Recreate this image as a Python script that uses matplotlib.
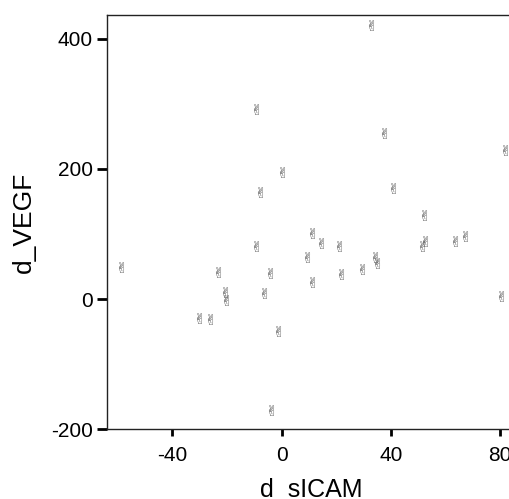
import matplotlib
matplotlib.use("Agg")
import matplotlib.pyplot as plt

# d_sICAM vs d_VEGF values
d_sICAM = [-58.7, -23.5, -20.9, -20.3, -30.4, -26.1, -9.3, -4.4, -6.6, -1.2,
           -3.9, 11.3, 14.5, 9.3, 11.3, 21.0, 21.8, 29.4, 34.2, 35.0,
           52.0, 51.4, 52.6, 63.7, 67.3, 80.5, 32.6, -9.4, 37.7, 82.0,
           0.3, -8.0, 40.9]
d_VEGF = [49.7, 41.5, 10.8, -1.5, -29.2, -30.8, 81.5, 40.5, 9.2, -49.2,
          -170.8, 101.5, 86.2, 64.6, 26.2, 81.5, 38.5, 46.2, 64.6, 54.9,
          129.2, 81.5, 89.7, 89.2, 96.9, 4.1, 421.5, 292.3, 255.9, 229.2,
          194.9, 164.6, 170.3]

x_ticks = [-40, 0, 40, 80]
y_ticks = [-200, 0, 200, 400]

plt.rcParams['font.family'] = ['Liberation Sans', 'DejaVu Sans']

fig = plt.figure(figsize=(5.1, 4.99), dpi=100)
ax = fig.add_axes([0.2098, 0.1397, 0.7902, 0.8308])

ax.scatter(d_sICAM, d_VEGF, marker='$\u270c$', s=60, c='#555555',
           linewidths=0)

ax.set_xlim(-64, 83.7)
ax.set_ylim(-200, 437)
ax.set_xticks(x_ticks)
ax.set_yticks(y_ticks)
ax.set_xticklabels([str(v) for v in x_ticks])
ax.set_yticklabels([str(v) for v in y_ticks])

ax.spines['right'].set_visible(False)
for s in ['left', 'bottom', 'top']:
    ax.spines[s].set_linewidth(1.0)
    ax.spines[s].set_color('#222222')

ax.tick_params(axis='y', direction='out', length=7, width=2, pad=3,
               labelsize=15, colors='black')
ax.tick_params(axis='x', direction='out', length=5, width=2, pad=7,
               labelsize=15, colors='black')

# the underscore of the x label falls just below the figure edge
ax.set_xlabel('d_sICAM', fontsize=18)
ax.set_ylabel('d_VEGF', fontsize=19)
ax.xaxis.set_label_coords(0.508, -0.118)
ax.yaxis.set_label_coords(-0.177, 0.5)

fig.savefig('out.png', dpi=100)
